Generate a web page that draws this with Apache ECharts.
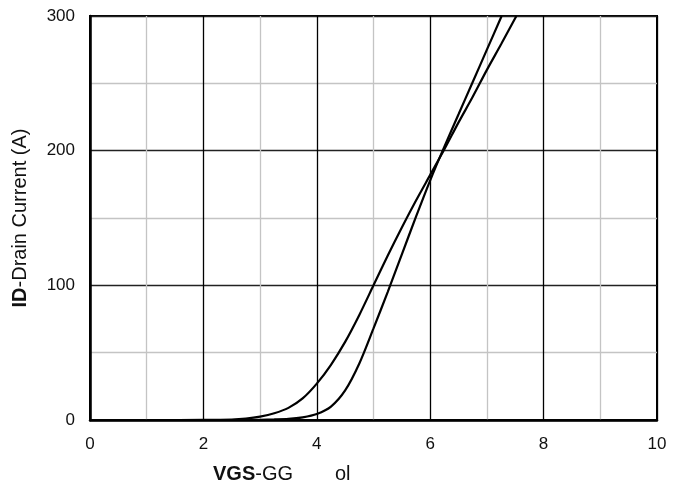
<!DOCTYPE html>
<html>
<head>
<meta charset="utf-8">
<script src="https://cdn.jsdelivr.net/npm/echarts@6/dist/echarts.min.js"></script>
<style>html,body{margin:0;padding:0;background:#fff}#c{width:689px;height:490px}</style>
</head>
<body>
<div id="c"></div>
<script>
// Curve A (earlier turn-on, flatter)
const vgsA = [1, 2, 2.5, 2.75, 3, 3.25, 3.5, 3.75, 4, 4.25, 4.5, 4.75, 5, 5.25, 5.5, 5.75, 6, 6.25, 6.5, 6.75, 7, 7.25, 7.52];
const idA  = [0, 0.05, 0.3, 1, 2.5, 5, 9, 16, 27, 41, 58, 78, 100, 122, 143, 163, 182, 201, 221, 240, 260, 279, 300];
// Curve B (later turn-on, steeper)
const vgsB = [1, 2, 2.5, 3, 3.25, 3.5, 3.75, 4, 4.25, 4.5, 4.75, 5, 5.25, 5.5, 5.75, 6, 6.25, 6.5, 6.75, 7, 7.26];
const idB  = [0, 0, 0, 0.2, 0.4, 0.8, 2, 4.5, 10, 22, 42, 68, 95, 123, 151, 178, 203, 227, 251, 275, 300];
const xTicks = [0, 2, 4, 6, 8, 10];
const yTicks = [0, 100, 200, 300];

const zip = (xs, ys) => xs.map((x, i) => [x, ys[i]]);
const font = 'Liberation Sans, Arial, sans-serif';

const chart = echarts.init(document.getElementById('c'));
chart.setOption({
  animation: false,
  grid: { left: 90, right: 32, top: 16, bottom: 70, show: true, borderColor: '#000', borderWidth: 2, backgroundColor: '#fff' },
  xAxis: {
    type: 'value', min: xTicks[0], max: xTicks[xTicks.length - 1], interval: 2,
    axisLine: { show: true, lineStyle: { color: '#000', width: 2.5 } },
    axisTick: { show: false },
    axisLabel: { color: '#111', fontSize: 17, fontFamily: font, margin: 16 },
    splitLine: { show: true, lineStyle: { color: '#000', width: 1.3 } },
    minorTick: { show: false, splitNumber: 2 },
    minorSplitLine: { show: true, lineStyle: { color: '#c4c4c4', width: 1.3 } }
  },
  yAxis: {
    type: 'value', min: yTicks[0], max: yTicks[yTicks.length - 1], interval: 100,
    name: '{b|ID}-Drain Current (A)', nameLocation: 'middle', nameGap: 60,
    nameTextStyle: { color: '#111', fontSize: 20, fontFamily: font, rich: { b: { fontWeight: 'bold', fontSize: 20, fontFamily: font, color: '#111' } } },
    axisLine: { show: true, lineStyle: { color: '#000', width: 2.5 } },
    axisTick: { show: false },
    axisLabel: { color: '#111', fontSize: 17, fontFamily: font, margin: 15 },
    splitLine: { show: true, lineStyle: { color: '#222', width: 1.3 } },
    minorTick: { show: false, splitNumber: 2 },
    minorSplitLine: { show: true, lineStyle: { color: '#c4c4c4', width: 1.3 } }
  },
  graphic: [{
    type: 'text', left: 213, top: 464,
    style: {
      text: '{b|VGS}-GG',
      fill: '#111', fontSize: 20, fontFamily: font,
      rich: { b: { fontWeight: 'bold', fontSize: 20, fontFamily: font, fill: '#111' } }
    }
  }, {
    type: 'text', left: 335, top: 464,
    style: { text: 'ol', fill: '#111', fontSize: 20, fontFamily: font }
  }],
  series: [
    { type: 'line', data: zip(vgsA, idA), smooth: 0.3, showSymbol: false, lineStyle: { color: '#000', width: 2.2 } },
    { type: 'line', data: zip(vgsB, idB), smooth: 0.3, showSymbol: false, lineStyle: { color: '#000', width: 2.2 } }
  ]
});
</script>
</body>
</html>
